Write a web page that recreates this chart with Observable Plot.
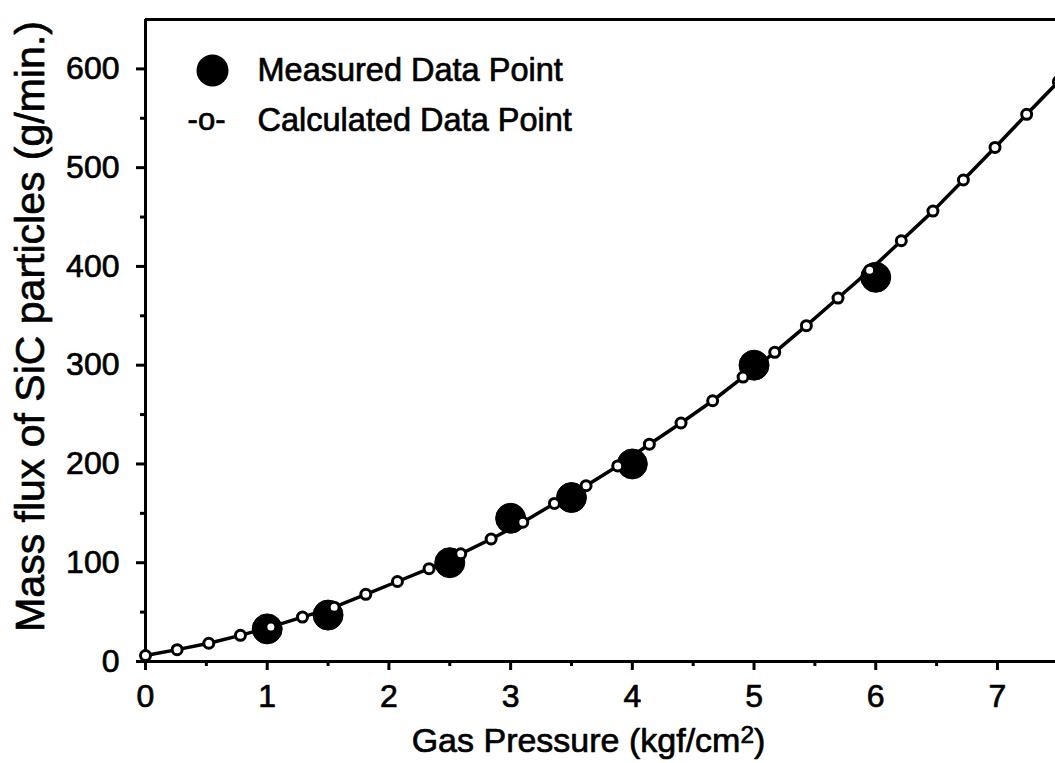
<!DOCTYPE html>
<html><head><meta charset="utf-8">
<script src="https://cdn.jsdelivr.net/npm/d3@7"></script>
<script src="https://cdn.jsdelivr.net/npm/@observablehq/plot@0.6"></script>
<style>
html,body{margin:0;padding:0;background:#fff;}
svg{font-family:"Liberation Sans",Arial,sans-serif;display:block;}
</style>
</head><body><div id="chart"></div>
<script>
// Measured data points (gas pressure kgf/cm2, mass flux g/min)
const measuredX = [1, 1.5, 2.5, 3, 3.5, 4, 5, 6];
const measuredY = [33, 47, 100, 145, 166, 200, 300, 389];
// Calculated data points
const calcX = [0, 0.26, 0.52, 0.78, 1.03, 1.29, 1.55, 1.81, 2.07, 2.33, 2.59, 2.84, 3.10, 3.36, 3.62,
               3.88, 4.14, 4.40, 4.66, 4.91, 5.17, 5.43, 5.69, 5.95, 6.21, 6.47, 6.72, 6.98, 7.24, 7.50];
const calcY = [6, 12, 18.5, 26.5, 35, 45, 55, 68, 81, 94, 109, 124, 141, 160, 178,
               198, 220, 241.5, 264, 288, 313, 340, 368, 396, 426, 456, 487.5, 520.5, 554, 587];
// Ticks
const xTicks = [0, 1, 2, 3, 4, 5, 6, 7];
const xMinorTicks = [0.5, 1.5, 2.5, 3.5, 4.5, 5.5, 6.5];
const yTicks = [0, 100, 200, 300, 400, 500, 600];
const yMinorTicks = [50, 150, 250, 350, 450, 550];
const legendLabels = ["Measured Data Point", "Calculated Data Point"];
const xTitleParts = ["Gas Pressure (kgf/cm", "2", ")"];
const yTitle = "Mass flux of SiC particles (g/min.)";

const measured = measuredX.map((x, i) => ({x, y: measuredY[i]}));
const calc = calcX.map((x, i) => ({x, y: calcY[i]}));

const heavy = {fill: "black", stroke: "black", strokeWidth: 0.7};

const chart = Plot.plot({
  width: 1055,
  height: 763,
  marginLeft: 145,
  marginRight: 0,
  marginTop: 19,
  marginBottom: 102,
  style: {fontFamily: '"Liberation Sans", Arial, sans-serif', color: "black", background: "white"},
  x: {domain: [0, 7.477], label: null},
  y: {domain: [0, 650], label: null},
  marks: [
    // frame (top, left, bottom)
    Plot.ruleY([650], {stroke: "black", strokeWidth: 3}),
    Plot.ruleY([0], {stroke: "black", strokeWidth: 3}),
    Plot.ruleX([0], {stroke: "black", strokeWidth: 3}),
    // axes
    Plot.axisX({ticks: xTicks, tickSize: 9, tickPadding: 14, fontSize: 32, strokeWidth: 3, label: null,
                textStroke: "black", textStrokeWidth: 0.7}),
    Plot.axisX({ticks: xMinorTicks, tickSize: 5, tickFormat: () => "", strokeWidth: 3, label: null}),
    Plot.axisY({ticks: yTicks, tickSize: 9, tickPadding: 17, fontSize: 32, strokeWidth: 3, label: null,
                textStroke: "black", textStrokeWidth: 0.7}),
    Plot.axisY({ticks: yMinorTicks, tickSize: 5, tickFormat: () => "", strokeWidth: 3, label: null}),
    // axis titles
    Plot.text([xTitleParts.join("")], {frameAnchor: "bottom", textAnchor: "middle", lineAnchor: "middle", dx: -12, dy: 80, fontSize: 34, className: "xtitle", ...heavy}),
    Plot.text([yTitle], {frameAnchor: "left", textAnchor: "middle", lineAnchor: "middle", rotate: -90, dx: -115, dy: -14, fontSize: 41, ...heavy}),
    // data
    Plot.line(calc, {x: "x", y: "y", stroke: "black", strokeWidth: 3.5}),
    Plot.dot(measured, {x: "x", y: "y", r: 15, fill: "black", stroke: "black", strokeWidth: 1}),
    Plot.dot(calc, {x: "x", y: "y", r: 5, fill: "white", stroke: "black", strokeWidth: 3}),
    // legend
    Plot.dot([legendLabels[0]], {frameAnchor: "top-left", dx: 67, dy: 51, r: 16, fill: "black"}),
    Plot.text([legendLabels[0]], {frameAnchor: "top-left", textAnchor: "start", lineAnchor: "middle", dx: 112, dy: 51, fontSize: 32.5, ...heavy}),
    Plot.text(["-o-"], {frameAnchor: "top-left", textAnchor: "middle", lineAnchor: "middle", dx: 61, dy: 101, fontSize: 31, ...heavy}),
    Plot.text([legendLabels[1]], {frameAnchor: "top-left", textAnchor: "start", lineAnchor: "middle", dx: 112, dy: 101, fontSize: 32.5, ...heavy})
  ]
});
// superscript "2" in the x-axis title
d3.select(chart).selectAll("g.xtitle text").each(function() {
  const t = d3.select(this);
  t.text(null);
  t.append("tspan").text(xTitleParts[0]);
  t.append("tspan").attr("font-size", "72%").attr("dy", "-0.4em").text(xTitleParts[1]);
  t.append("tspan").attr("dy", "0.29em").text(xTitleParts[2]);
});
document.getElementById("chart").appendChild(chart);
</script>
</body></html>
